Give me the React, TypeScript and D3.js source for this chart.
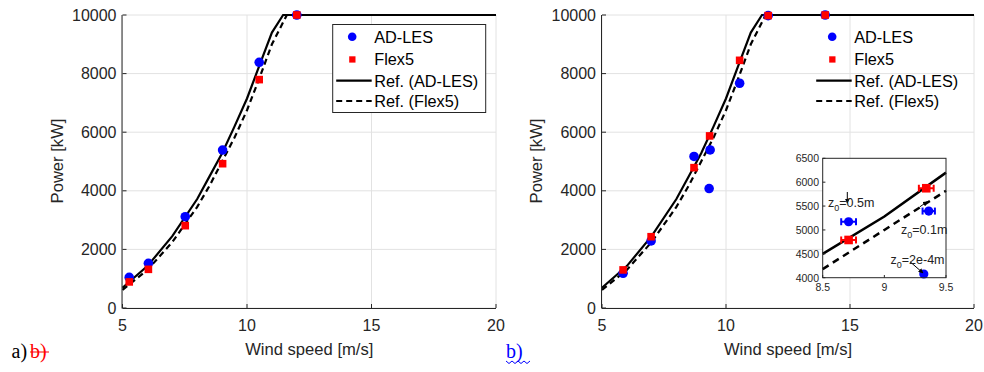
import React from "react";
import * as d3 from "d3";

// ---------- data ----------
const refAdlesX = [5, 6, 7, 8, 8.5, 9, 9.5, 10, 10.5, 11, 11.45, 20];
const refAdlesY = [690, 1430, 2450, 3720, 4500, 5280, 6200, 7150, 8280, 9400, 10000, 10000];
const refFlexX = [5, 6, 7, 8, 8.5, 9, 9.5, 10, 10.5, 11, 11.3, 11.6, 20];
const refFlexY = [620, 1300, 2250, 3450, 4180, 5000, 5820, 6750, 7850, 9000, 9500, 10000, 10000];

// panel a
const aAdlesX = [5.27, 6.04, 7.52, 9.02, 10.49, 12.0];
const aAdlesY = [1045, 1525, 3115, 5390, 8385, 10000];
const aFlexX = [5.27, 6.04, 7.52, 9.02, 10.49, 12.0];
const aFlexY = [890, 1320, 2810, 4925, 7795, 10000];

// panel b
const bAdlesX = [5.85, 6.98, 8.71, 9.36, 9.32, 10.55, 11.7, 14.0];
const bAdlesY = [1185, 2290, 5172, 5395, 4077, 7670, 9980, 10000];
const bAdlesErr = [0.06, 0.06, 0.06, 0.05, 0, 0.06, 0.06, 0.06];
const bFlexX = [5.85, 6.98, 8.71, 9.34, 10.55, 11.7, 14.0];
const bFlexY = [1300, 2433, 4790, 5873, 8453, 9980, 10000];
const bFlexErr = [0.06, 0.06, 0.06, 0.06, 0.06, 0.06, 0.06];

const xTicks = [5, 10, 15, 20];
const yTicks = [0, 2000, 4000, 6000, 8000, 10000];
const insetXTicks = [8.5, 9, 9.5];
const insetYTicks = [4000, 4500, 5000, 5500, 6000, 6500];
const legendLabels = ["AD-LES", "Flex5", "Ref. (AD-LES)", "Ref. (Flex5)"];

const FONT = "'Liberation Sans', Arial, Helvetica, sans-serif";
const AX = "#262626";
const GRID = "#e2e2e2";
const BLUE = "#0000ff";
const RED = "#ff0000";

const zip = (xs: number[], ys: number[]) => xs.map((x, i) => [x, ys[i]] as [number, number]);

function Panel({ x0, x1, adX, adY, fxX, fxY, boxedLegend, legendX }: any) {
  const xs = d3.scaleLinear().domain([5, 20]).range([x0, x1]);
  const ys = d3.scaleLinear().domain([0, 10000]).range([308, 15]);
  const line = d3.line<[number, number]>().x((d) => xs(d[0])).y((d) => ys(d[1]));
  const lx = legendX;
  return (
    <g>
      {xTicks.map((t) => (
        <line key={"gx" + t} x1={xs(t)} x2={xs(t)} y1={ys(0)} y2={ys(10000)} stroke={GRID} strokeWidth={1} />
      ))}
      {yTicks.map((t) => (
        <line key={"gy" + t} x1={xs(5)} x2={xs(20)} y1={ys(t)} y2={ys(t)} stroke={GRID} strokeWidth={1} />
      ))}
      <path d={line(zip(refAdlesX, refAdlesY)) || ""} fill="none" stroke="#000" strokeWidth={2.2} />
      <path d={line(zip(refFlexX, refFlexY)) || ""} fill="none" stroke="#000" strokeWidth={2.2} strokeDasharray="6,4" />
      {adX.map((x: number, i: number) => (
        <circle key={"a" + i} cx={xs(x)} cy={ys(adY[i])} r={4.8} fill={BLUE} />
      ))}
      {fxX.map((x: number, i: number) => (
        <rect key={"f" + i} x={xs(x) - 3.8} y={ys(fxY[i]) - 3.8} width={7.6} height={7.6} fill={RED} />
      ))}
      {/* axes */}
      <line x1={xs(5)} x2={xs(20)} y1={308.5} y2={308.5} stroke={AX} strokeWidth={1} />
      <line x1={x0 - 0.5} x2={x0 - 0.5} y1={15} y2={308.5} stroke={AX} strokeWidth={1} />
      {xTicks.map((t) => (
        <g key={"xt" + t}>
          <line x1={xs(t)} x2={xs(t)} y1={308} y2={304} stroke={AX} />
          <text x={xs(t)} y={331} textAnchor="middle" fontSize={16} fill={AX} fontFamily={FONT}>{t}</text>
        </g>
      ))}
      {yTicks.map((t) => (
        <g key={"yt" + t}>
          <line x1={x0} x2={x0 + 4} y1={ys(t)} y2={ys(t)} stroke={AX} />
          <text x={x0 - 6} y={ys(t) + 5.5} textAnchor="end" fontSize={16} fill={AX} fontFamily={FONT}>{t}</text>
        </g>
      ))}
      <text x={(x0 + x1) / 2} y={355} textAnchor="middle" fontSize={16.6} fill={AX} fontFamily={FONT}>Wind speed [m/s]</text>
      <text transform={`translate(${x0 - 60},161) rotate(-90)`} textAnchor="middle" fontSize={16.6} fill={AX} fontFamily={FONT}>Power [kW]</text>
      {/* legend */}
      {boxedLegend && <rect x={lx} y={24.5} width={153} height={88} fill="#fff" stroke={AX} strokeWidth={1} />}
      <circle cx={lx + 19.5} cy={36.7} r={4.3} fill={BLUE} />
      <rect x={lx + 16.5} y={56.3} width={6.3} height={6.3} fill={RED} />
      <line x1={lx + 3.5} x2={lx + 39} y1={80.7} y2={80.7} stroke="#000" strokeWidth={2.2} />
      <line x1={lx + 3.5} x2={lx + 39} y1={101} y2={101} stroke="#000" strokeWidth={2.2} strokeDasharray="6,4" />
      {legendLabels.map((l, i) => (
        <text key={l} x={lx + 41.5} y={[42.5, 65, 86.5, 107][i]} fontSize={16.3} fill="#000" fontFamily={FONT}>{l}</text>
      ))}
    </g>
  );
}

function Inset() {
  const xs = d3.scaleLinear().domain([8.5, 9.5]).range([822.7, 946]);
  const ys = d3.scaleLinear().domain([4000, 6500]).range([277.7, 158.3]);
  const line = d3.line<[number, number]>().x((d) => xs(d[0])).y((d) => ys(d[1]));
  const inRange = (x: number) => x >= 8.45 && x <= 9.55;
  const clipSolid = zip(refAdlesX, refAdlesY).filter((d) => d[0] >= 8.5 && d[0] <= 9.5);
  const clipDash = zip(refFlexX, refFlexY).filter((d) => d[0] >= 8.5 && d[0] <= 9.5);
  const sub = (txt: string) => (
    <>
      z<tspan dy={4} fontSize={9}>0</tspan>
      <tspan dy={-4}>{txt}</tspan>
    </>
  );
  return (
    <g>
      <rect x={822.7} y={158.3} width={123.3} height={119.4} fill="#fff" />
      <path d={line(clipSolid) || ""} fill="none" stroke="#000" strokeWidth={2.5} />
      <path d={line(clipDash) || ""} fill="none" stroke="#000" strokeWidth={2.5} strokeDasharray="7,5" />
      {bAdlesX.map((x, i) =>
        inRange(x) ? (
          <g key={"ia" + i}>
            {bAdlesErr[i] > 0 && (
              <g stroke={BLUE} strokeWidth={2}>
                <line x1={xs(x - bAdlesErr[i])} x2={xs(x + bAdlesErr[i])} y1={ys(bAdlesY[i])} y2={ys(bAdlesY[i])} />
                <line x1={xs(x - bAdlesErr[i])} x2={xs(x - bAdlesErr[i])} y1={ys(bAdlesY[i]) - 3.5} y2={ys(bAdlesY[i]) + 3.5} />
                <line x1={xs(x + bAdlesErr[i])} x2={xs(x + bAdlesErr[i])} y1={ys(bAdlesY[i]) - 3.5} y2={ys(bAdlesY[i]) + 3.5} />
              </g>
            )}
            <circle cx={xs(x)} cy={ys(bAdlesY[i])} r={4.6} fill={BLUE} />
          </g>
        ) : null
      )}
      {bFlexX.map((x, i) =>
        inRange(x) ? (
          <g key={"if" + i}>
            <g stroke={RED} strokeWidth={2}>
              <line x1={xs(x - bFlexErr[i])} x2={xs(x + bFlexErr[i])} y1={ys(bFlexY[i])} y2={ys(bFlexY[i])} />
              <line x1={xs(x - bFlexErr[i])} x2={xs(x - bFlexErr[i])} y1={ys(bFlexY[i]) - 3.5} y2={ys(bFlexY[i]) + 3.5} />
              <line x1={xs(x + bFlexErr[i])} x2={xs(x + bFlexErr[i])} y1={ys(bFlexY[i]) - 3.5} y2={ys(bFlexY[i]) + 3.5} />
            </g>
            <rect x={xs(x) - 4.3} y={ys(bFlexY[i]) - 4.3} width={8.6} height={8.6} fill={RED} />
          </g>
        ) : null
      )}
      <rect x={822.7} y={158.3} width={123.3} height={119.4} fill="none" stroke={AX} strokeWidth={1} />
      {insetXTicks.map((t) => (
        <g key={"ixt" + t}>
          <line x1={xs(t)} x2={xs(t)} y1={277.7} y2={275} stroke={AX} />
          <text x={xs(t)} y={291} textAnchor="middle" fontSize={10.5} fill={AX} fontFamily={FONT}>{t}</text>
        </g>
      ))}
      {insetYTicks.map((t) => (
        <g key={"iyt" + t}>
          <line x1={822.7} x2={825.4} y1={ys(t)} y2={ys(t)} stroke={AX} />
          <text x={819} y={ys(t) + 3.8} textAnchor="end" fontSize={10.5} fill={AX} fontFamily={FONT}>{t}</text>
        </g>
      ))}
      {/* annotations */}
      <defs>
        <marker id="ah" viewBox="0 0 10 10" refX={9} refY={5} markerWidth={5} markerHeight={5} orient="auto">
          <path d="M0,0 L10,5 L0,10 z" fill="#000" />
        </marker>
      </defs>
      <line x1={847.3} y1={192} x2={847.3} y2={203} stroke="#000" strokeWidth={1} markerEnd="url(#ah)" />
      <text x={828} y={207} fontSize={12.5} fill="#222" fontFamily={FONT}>{sub("=0.5m")}</text>
      <line x1={920} y1={206.7} x2={927.5} y2={201.5} stroke="#000" strokeWidth={1} markerEnd="url(#ah)" />
      <text x={901} y={234} fontSize={12.5} fill="#222" fontFamily={FONT}>{sub("=0.1m")}</text>
      <line x1={910} y1={261.7} x2={923} y2={273} stroke="#000" strokeWidth={1} markerEnd="url(#ah)" />
      <text x={890.5} y={263.5} fontSize={12.5} fill="#222" fontFamily={FONT}>{sub("=2e-4m")}</text>
    </g>
  );
}

export default function App() {
  return (
    <svg width={984} height={372} style={{ position: "absolute", left: 0, top: 0, background: "#fff" }}>
      <Panel x0={122.5} x1={496} adX={aAdlesX} adY={aAdlesY} fxX={aFlexX} fxY={aFlexY} boxedLegend={true} legendX={332.7} />
      <Panel x0={602} x1={974} adX={bAdlesX} adY={bAdlesY} fxX={bFlexX} fxY={bFlexY} boxedLegend={false} legendX={812.7} />
      <Inset />
      {/* panel labels */}
      <text x={11.5} y={358} fontSize={20} fontFamily="'Liberation Serif', 'Times New Roman', serif" fill="#000">a)</text>
      <text x={30} y={358} fontSize={20} fontFamily="'Liberation Serif', 'Times New Roman', serif" fill={RED}>b)</text>
      <line x1={30} x2={49} y1={352} y2={352} stroke={RED} strokeWidth={1} />
      <text x={506} y={358} fontSize={20} fontFamily="'Liberation Serif', 'Times New Roman', serif" fill={BLUE}>b)</text>
      <path
        d={d3.range(0, 9).map((i) => `${i === 0 ? "M" : "L"}${506 + i * 3},${i % 2 === 0 ? 361 : 363.5}`).join(" ")}
        fill="none"
        stroke={BLUE}
        strokeWidth={1}
      />
    </svg>
  );
}
